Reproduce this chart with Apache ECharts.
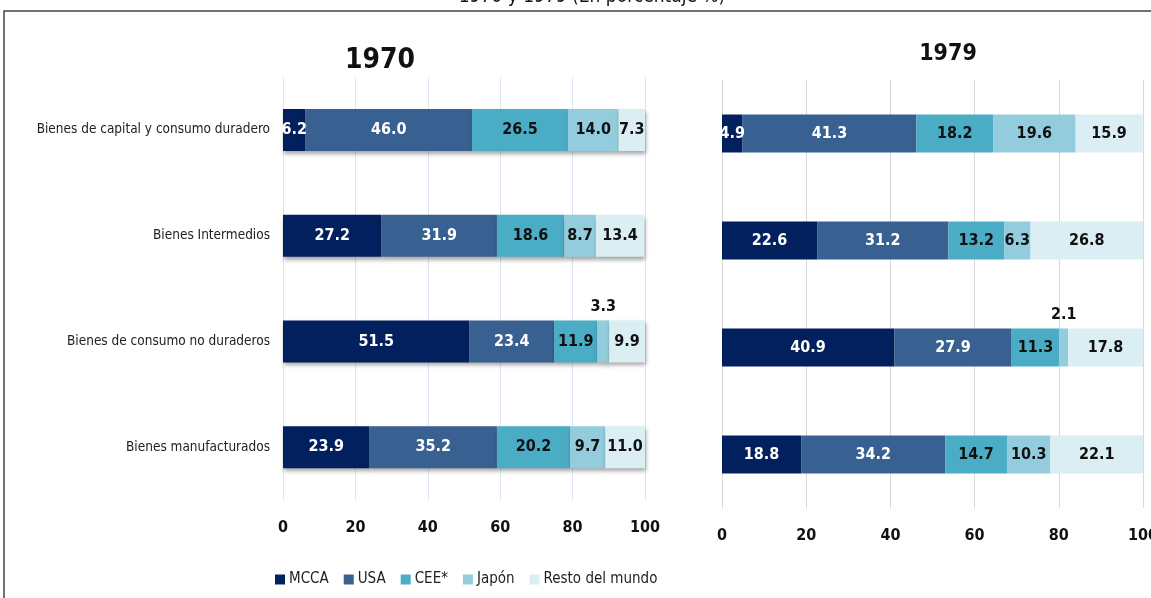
<!DOCTYPE html>
<html>
<head>
<meta charset="utf-8">
<style>
  html, body { margin: 0; padding: 0; background: #fff; }
  #main { width: 1151px; height: 598px; }
</style>
</head>
<body>
<div id="main"></div>
<script src="https://cdn.jsdelivr.net/npm/echarts@6/dist/echarts.min.js"></script>
<script>
// datos
var categorias = ['Bienes de capital y consumo duradero', 'Bienes Intermedios', 'Bienes de consumo no duraderos', 'Bienes manufacturados'];
var regiones = ['MCCA', 'USA', 'CEE*', 'Japón', 'Resto del mundo'];
var colores = ['#02205e', '#386191', '#4bacc6', '#93cddd', '#daeef3'];
var textoColor = ['#fff', '#fff', '#111', '#111', '#111'];
var ticks = [0, 20, 40, 60, 80, 100];

var v1970 = [
    [6.2, 27.2, 51.5, 23.9],   // MCCA
    [46.0, 31.9, 23.4, 35.2],  // USA
    [26.5, 18.6, 11.9, 20.2],  // CEE*
    [14.0, 8.7, 3.3, 9.7],     // Japón
    [7.3, 13.4, 9.9, 11.0]     // Resto del mundo
];
var v1979 = [
    [4.9, 22.6, 40.9, 18.8],
    [41.3, 31.2, 27.9, 34.2],
    [18.2, 13.2, 11.3, 14.7],
    [19.6, 6.3, 2.1, 10.3],
    [15.9, 26.8, 17.8, 22.1]
];

var fuente = "'Liberation Sans Narrow', 'DejaVu Sans Condensed', 'Open Sans', sans-serif";

var myChart = echarts.init(document.getElementById('main'));

function series(valores, idx, sombra, ancho) {
    return valores.map(function (fila, i) {
        return {
            name: regiones[i],
            type: 'bar',
            stack: 'total' + idx,
            xAxisIndex: idx,
            yAxisIndex: idx,
            barWidth: ancho,
            itemStyle: sombra ? {
                color: colores[i],
                shadowColor: 'rgba(0,0,0,0.35)',
                shadowBlur: 4,
                shadowOffsetY: 3,
                shadowOffsetX: 1
            } : { color: colores[i] },
            label: {
                show: true,
                position: 'inside',
                color: textoColor[i],
                fontFamily: fuente,
                fontWeight: 'bold',
                fontSize: 16,
                formatter: function (p) { return p.value.toFixed(1); }
            },
            data: fila.map(function (v) {
                if (v < 4) {
                    return { value: v, label: { position: 'top', color: '#111', distance: 6 } };
                }
                return v;
            })
        };
    });
}

function ejeX(idx, margen, colorLinea) {
    return {
        type: 'value',
        gridIndex: idx,
        min: 0, max: 100, interval: 20,
        axisLine: { show: false },
        axisTick: { show: false },
        splitLine: { show: true, lineStyle: { color: colorLinea, width: 1 } },
        axisLabel: { margin: margen, color: '#111', fontFamily: fuente, fontWeight: 'bold', fontSize: 16 }
    };
}

var option = {
    backgroundColor: '#fff',
    animation: false,
    graphic: [
        {
            type: 'rect',
            shape: { x: 4, y: 11, width: 1170, height: 620 },
            style: { fill: 'none', stroke: '#444', lineWidth: 1.5 },
            silent: true
        },
        {
            type: 'text',
            x: 592, y: -3,
            style: { text: '1970 y 1979 (En porcentaje %)', fontSize: 19, fontFamily: fuente, fill: '#111', align: 'center', verticalAlign: 'middle' }
        }
    ],
    title: [
        { text: '1970', left: 375, top: 42, textAlign: 'center',
          textStyle: { fontFamily: fuente, fontWeight: 'bold', fontSize: 28, color: '#111' } },
        { text: '1979', left: 943, top: 38, textAlign: 'center',
          textStyle: { fontFamily: fuente, fontWeight: 'bold', fontSize: 23, color: '#111' } }
    ],
    legend: {
        data: regiones,
        left: 270,
        top: 567,
        itemWidth: 10,
        itemHeight: 10,
        itemGap: 15,
        icon: 'rect',
        textStyle: { fontFamily: fuente, fontSize: 15, color: '#222', padding: [0, 0, 0, -1] }
    },
    grid: [
        { left: 283, width: 362, top: 77, height: 423, outerBoundsMode: 'none' },
        { left: 722, width: 421, top: 80, height: 428, outerBoundsMode: 'none' }
    ],
    xAxis: [ejeX(0, 20, '#dce6f2'), ejeX(1, 20, '#d9d9d9')],
    yAxis: [
        {
            type: 'category', gridIndex: 0, data: categorias, inverse: true,
            axisLine: { show: false }, axisTick: { show: false },
            axisLabel: { margin: 13, color: '#222', fontFamily: fuente, fontSize: 13.5 }
        },
        {
            type: 'category', gridIndex: 1, data: categorias, inverse: true,
            axisLine: { show: false }, axisTick: { show: false },
            axisLabel: { show: false }
        }
    ],
    series: series(v1970, 0, true, 42).concat(series(v1979, 1, false, 38))
};

myChart.setOption(option);
</script>
</body>
</html>
